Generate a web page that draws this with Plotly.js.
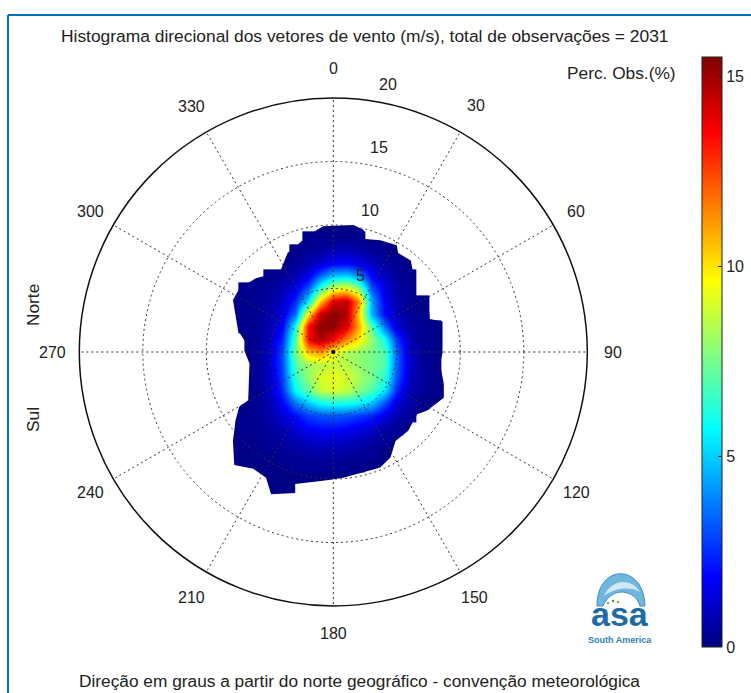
<!DOCTYPE html>
<html><head><meta charset="utf-8">
<script src="https://cdn.plot.ly/plotly-3.0.1.min.js"></script>
<style>html,body{margin:0;padding:0;background:#fff}#c{width:751px;height:693px}</style></head>
<body><div id="c"></div>
<script>
const angleTicks = [0,30,60,90,120,150,180,210,240,270,300,330];
const angleLabelR = [22.3,22.4,22.1,22.0,22.1,22.3,22.2,22.3,22.1,22.1,22.1,22.3];
const radialTicks = [5,10,15,20];
const radialLabelR = [6.4,11.5,16.5,21.5];
const radialLabelTheta = [19.3,14.7,12.6,11.6];
const colorTicks = [0,5,10,15];
const xCols = [-8,-7,-6,-5,-4,-3,-2,-1,0,1,2,3,4,5,6,7,8,9];
const yRows = [9,8,7,6,5,4,3,2,1,0,-1,-2,-3,-4,-5,-6,-7,-8,-9];
const rowStartX = [-2,-3,-3,-5,-7,-7,-7,-7,-6,-6,-6,-6,-6,-6,-7,-7,-7,-6,-5];
const rowValues = [
 [.2,.2,.2,.2,.2],
 [.2,.3,.5,.8,.8,.6,.4,.2],
 [.3,.7,1.2,1.8,1.9,1.5,1,.5,.3],
 [.2,.3,.7,1.5,3.3,4.8,5,4,1.8,.9,.4,.2],
 [.2,.3,.4,.7,1.5,3.2,6.5,9,9.5,8,3.2,1.4,.6,.3],
 [.2,.3,.5,1,2.4,5.5,10.5,14,14.5,11.5,4.5,1.7,.7,.3,.2],
 [.2,.3,.6,1.4,3.5,10,14.5,15.4,14.8,10.5,4.6,2,.9,.4,.2],
 [.2,.3,.7,1.8,6,13.5,15.3,15.2,14,11,7,3.6,1.3,.5,.3,.2],
 [.3,.9,2.5,7,13.5,14.8,13.5,11.5,10,8,6,2.8,.8,.3,.2],
 [.3,1,3,7.5,10.5,11.2,9.5,8.3,8,7.5,7,3.5,1,.3,.2],
 [.3,1,3,7,8.2,8.5,8.8,8.5,8,7.5,7,3.5,1.1,.4,.2],
 [.3,1,2.8,6.5,8,9,9.3,9,8.3,7.5,6.5,3.2,1,.4,.2],
 [.3,.9,2.5,5.8,7.2,8.7,9,8.7,7.8,7,5.5,2.5,.8,.3,.2],
 [.3,.7,1.8,3.8,5,6,6.2,6.2,5.8,5,3.2,1.3,.6,.2],
 [.2,.3,.6,1.2,2,2.8,3.1,3.2,3.1,2.8,2.4,1.5,.7,.3],
 [.2,.3,.4,.8,1.3,1.8,2,2,1.8,1.5,1.1,.6,.3],
 [.2,.2,.3,.5,.7,1,1.1,1.1,1,.8,.5,.3],
 [.2,.2,.3,.4,.5,.6,.6,.5,.4,.3],
 [.2,.2,.3,.3,.3,.3,.2,.2]
];
const outlineX = [-.8,1.6,2.4,2.5,3.7,5,5.1,6.1,6.3,6.4,6.7,7.5,7.6,8.6,8.6,8.4,8.7,8.7,7.4,6.6,5.9,4.9,4.5,3.7,.8,-.5,-3,-3,-4.9,-5.3,-6.3,-7.8,-7.9,-7.7,-7.4,-6.7,-6.6,-7,-7,-7.5,-7.9,-7.4,-6.1,-4.2,-3.6,-2.4,-1.3,-.8];
const outlineY = [9.9,10,9.6,8.9,8.8,8.4,7.8,7.2,6.2,4.7,3.9,3.7,2.6,2.4,-.1,-.9,-2.5,-3.6,-4.6,-4.9,-6.2,-7,-8.3,-9.1,-9.9,-10.1,-10.4,-11.1,-11.2,-9.9,-9.2,-8.9,-7,-5.4,-4.3,-3.8,-.9,.1,.9,1.7,4.1,5,5.8,6.3,7.8,8.8,9.6,9.9];

const W=751,H=693,CX=333.3,CY=352,R=254,RANGE=24,RB=R*RANGE/20;
const px=x=>x/W, py=y=>1-y/H;
const z = rowValues.map((vals,i)=>{
  const row = xCols.map(()=>null);
  vals.forEach((v,j)=>{ row[xCols.indexOf(rowStartX[i]+j)] = v; });
  return row;
});
const jet=[[0,'#00007f'],[0.12,'#0000ff'],[0.37,'#00ffff'],[0.62,'#ffff00'],[0.87,'#ff0000'],[1,'#800000']];
const font={family:'"Liberation Sans",Arial,sans-serif',size:17.3,color:'#222'};
const tickFont=Object.assign({},font,{size:16});
const data=[
 {type:'scatter',x:outlineX,y:outlineY,mode:'lines',fill:'toself',fillcolor:'#000085',line:{width:0},hoverinfo:'skip',xaxis:'x',yaxis:'y',showlegend:false},
 {type:'heatmap',x:xCols,y:yRows,z:z,zmin:0,zmax:15.5,zsmooth:'best',colorscale:jet,hoverongaps:false,xaxis:'x2',yaxis:'y2',
  colorbar:{thickness:20,thicknessmode:'pixels',len:590,lenmode:'pixels',x:px(702),xanchor:'left',xref:'paper',y:py(57),yanchor:'top',yref:'paper',xpad:0,ypad:0,
   outlinecolor:'#222',outlinewidth:1,tickvals:colorTicks,ticks:'inside',ticklen:4,tickcolor:'#222',tickfont:tickFont,borderwidth:0}},
 {type:'scatterpolar',r:[0],theta:[0],mode:'markers',marker:{size:4,color:'#000'},hoverinfo:'skip',showlegend:false,subplot:'polar'}
];
const ann=(t,x,y,extra)=>Object.assign({text:t,x:px(x),y:py(y),xref:'paper',yref:'paper',showarrow:false,font:font,xanchor:'center',yanchor:'middle'},extra||{});
const polarAnn=(t,r,deg)=>({text:t,x:r*Math.sin(deg*Math.PI/180),y:r*Math.cos(deg*Math.PI/180),xref:'x',yref:'y',showarrow:false,font:tickFont,xanchor:'center',yanchor:'middle'});
function toPaper(s){
  const t=s.split(' ');let isX=true;
  return t.map(k=>{ if(/^[A-Z]$/.test(k)){isX=true;return k;} const n=parseFloat(k.replace(',','')); const c=k.endsWith(','); const out=isX?px(n):py(n); isX=!isX; return out.toFixed(5)+(c?',':''); }).join(' ');
}
const dot=(x,y,c)=>({type:'circle',xref:'paper',yref:'paper',x0:px(x-1.3),x1:px(x+1.3),y0:py(y+1.3),y1:py(y-1.3),fillcolor:c,line:{width:0}});
const dom={x:[px(CX-R),px(CX+R)],y:[py(CY+R),py(CY-R)]};
const domC={x:[px(CX-RB),px(CX+RB)],y:[py(CY+RB),py(CY-RB)]};
const layout={
 width:W,height:H,margin:{l:0,r:0,t:0,b:0,autoexpand:false},paper_bgcolor:'#fff',plot_bgcolor:'rgba(0,0,0,0)',showlegend:false,font:font,
 xaxis:{visible:false,range:[-RANGE,RANGE],domain:domC.x,fixedrange:true},
 yaxis:{visible:false,range:[-RANGE,RANGE],domain:domC.y,fixedrange:true},
 xaxis2:{visible:false,range:[-RANGE,RANGE],domain:domC.x,fixedrange:true,overlaying:'x',anchor:'y2'},
 yaxis2:{visible:false,range:[-RANGE,RANGE],domain:domC.y,fixedrange:true,overlaying:'y',anchor:'x2'},
 polar:{domain:dom,bgcolor:'rgba(0,0,0,0)',
  radialaxis:{range:[0,20],tickvals:radialTicks,showticklabels:false,ticks:'',showline:false,angle:80,griddash:'2px,3px',gridcolor:'#333',gridwidth:1},
  angularaxis:{direction:'clockwise',rotation:90,tickvals:angleTicks,showticklabels:false,ticks:'',
   showline:true,linecolor:'#111',linewidth:1.5,griddash:'2px,3px',gridcolor:'#333',gridwidth:1}},
 shapes:[
  {type:'line',xref:'paper',yref:'paper',x0:px(8),x1:1,y0:py(15),y1:py(15),line:{color:'#0071bc',width:2}},
  {type:'line',xref:'paper',yref:'paper',x0:px(8),x1:px(8),y0:py(15),y1:0,line:{color:'#0071bc',width:2}},
  {type:'path',xref:'paper',yref:'paper',path:toPaper('M 597 606 C 597 563, 644 563, 645 606 L 640 606 C 636 590, 612 585, 603 606 Z'),fillcolor:'#6fb7dc',line:{color:'#3f8fc0',width:1}},
  {type:'path',xref:'paper',yref:'paper',path:toPaper('M 604 596 C 612 578, 632 578, 640 592 C 630 586, 614 588, 604 596 Z'),fillcolor:'#cfe8f4',line:{width:0}},
  dot(608,603,'#8fae4a'),dot(613,601,'#5f8f4a'),dot(618,602,'#8fae4a')
 ],
 annotations:[
  ann('Histograma direcional dos vetores de vento (m/s), total de observações = 2031',364.5,36,{font:Object.assign({},font,{size:17.4})}),
  ann('Perc. Obs.(%)',621,73),
  ann('Norte',33,305,{textangle:-90}),
  ann('Sul',33,420,{textangle:-90}),
  ann('Direção em graus a partir do norte geográfico - convenção meteorológica',359,681),
  ann('<b>asa</b>',620,614,{font:{family:'"Liberation Sans",Arial,sans-serif',size:34,color:'#1d6aa5'}}),
  ann('<b>South America</b>',620,640,{font:{family:'"Liberation Sans",Arial,sans-serif',size:9,color:'#2f7fb5'}})
 ].concat(angleTicks.map((a,i)=>polarAnn(String(a),angleLabelR[i],a)))
  .concat(radialTicks.map((r,i)=>polarAnn(String(r),radialLabelR[i],radialLabelTheta[i])))
};
Plotly.newPlot('c',data,layout,{displayModeBar:false,staticPlot:true});
</script></body></html>
